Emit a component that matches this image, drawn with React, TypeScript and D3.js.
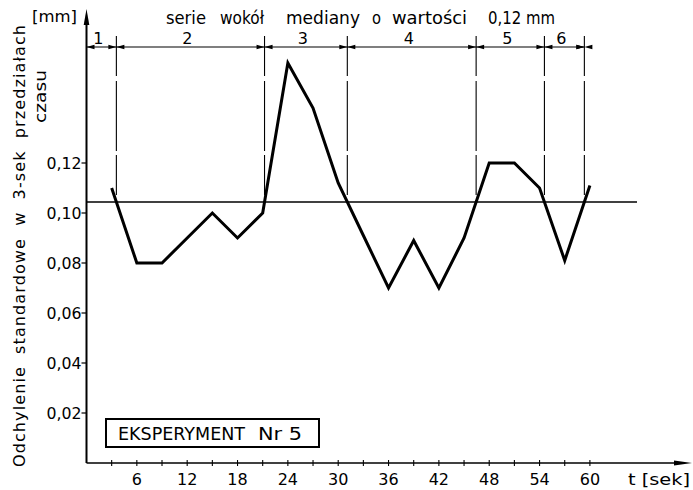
import React from "react";
import * as d3 from "d3";

// ---- data ----
const times = [3, 6, 9, 12, 15, 18, 21, 24, 27, 30, 33, 36, 39, 42, 45, 48, 51, 54, 57, 60];
const values = [0.11, 0.08, 0.08, 0.09, 0.1, 0.09, 0.1, 0.16, 0.142, 0.112, 0.091, 0.07, 0.089, 0.07, 0.09, 0.12, 0.12, 0.11, 0.081, 0.111];
const medianValue = 0.1044;
const xTickValues = [6, 12, 18, 24, 30, 36, 42, 48, 54, 60];
const xMinorTicks = [3, 6, 9, 12, 15, 18, 21, 24, 27, 30, 33, 36, 39, 42, 45, 48, 51, 54, 57, 60];
const yTickValues = [0.02, 0.04, 0.06, 0.08, 0.1, 0.12];
const runLabels = ["1", "2", "3", "4", "5", "6"];
const titleWords = ["serie", "wokół", "mediany", "o", "wartości", "0,12 mm"];
const yTitleLine1 = "Odchylenie standardowe w 3-sek przedziałach";
const yTitleLine2 = "czasu";
const boxLabel = ["EKSPERYMENT", "Nr 5"];

const FONT = "'DejaVu Sans', sans-serif";

export default function App() {
  const W = 693, H = 490;
  const x = d3.scaleLinear().domain([0, 60]).range([86.5, 589.9]);
  const y = d3.scaleLinear().domain([0, 0.18]).range([463, 13]);

  const pts: [number, number][] = times.map((t, i) => [t, values[i]]);
  const line = d3.line<[number, number]>().x(d => x(d[0])).y(d => y(d[1]));

  // crossings with the median -> run boundaries
  const crossings: number[] = [];
  for (let i = 1; i < pts.length; i++) {
    const [t0, v0] = pts[i - 1];
    const [t1, v1] = pts[i];
    if ((v0 - medianValue) * (v1 - medianValue) < 0) {
      crossings.push(t0 + (t1 - t0) * (v0 - medianValue) / (v0 - v1));
    }
  }
  const bounds = [0, ...crossings];
  const dimY = 47;
  const medY = y(medianValue);

  const arrow = (xb: number, dir: number, key: string) => {
    const L = 8, hw = 2.3;
    const p = `M${xb},${dimY} L${xb - dir * L},${dimY - hw} L${xb - dir * L},${dimY + hw} Z`;
    return <path key={key} d={p} fill="#000" />;
  };

  const titlePos: [number, number][] = [[166, 206], [220, 264], [286, 360], [372, 381], [392, 467], [488, 555]];

  return (
    <svg width={W} height={H} style={{ position: "absolute", left: 0, top: 0, background: "#fff" }} fontFamily={FONT}>
      <rect x={0} y={0} width={W} height={H} fill="#fff" />
      {/* title */}
      {titleWords.map((w, i) => (
        <text key={"tw" + i} x={titlePos[i][0]} y={24} fontSize={17} textLength={titlePos[i][1] - titlePos[i][0]} lengthAdjust="spacingAndGlyphs" fill="#000">{w}</text>
      ))}
      <text x={32} y={22} fontSize={16} textLength={45} lengthAdjust="spacingAndGlyphs">[mm]</text>

      {/* boundary vertical lines */}
      {crossings.map((c, i) => (
        <line key={"vb" + i} x1={x(c)} x2={x(c)} y1={36} y2={medY} stroke="#000" strokeWidth={1.1} strokeDasharray="40 5 70 4" />
      ))}
      {/* dimension line */}
      <line x1={x(0)} x2={x(crossings[crossings.length - 1])} y1={dimY} y2={dimY} stroke="#000" strokeWidth={1.1} />
      {bounds.map((b, i) => {
        const els = [];
        if (i > 0) els.push(arrow(x(b), 1, "ar" + i));
        els.push(arrow(x(b), -1, "al" + i));
        return els;
      })}
      {arrow(x(crossings[crossings.length - 1]), 1, "arlast")}
      {runLabels.map((r, i) => {
        const a = bounds[i];
        const b = i + 1 < bounds.length ? bounds[i + 1] : crossings[crossings.length - 1];
        return (
          <text key={"rl" + i} x={(x(a) + x(b)) / 2 - 3} y={44} fontSize={16} textAnchor="middle">{r}</text>
        );
      })}

      {/* median line */}
      <line x1={x(0)} x2={637} y1={medY} y2={medY} stroke="#000" strokeWidth={1.3} />

      {/* data line */}
      <path d={line(pts) || ""} fill="none" stroke="#000" strokeWidth={3} strokeLinejoin="miter" />

      {/* y axis */}
      <line x1={x(0)} x2={x(0)} y1={463} y2={18} stroke="#000" strokeWidth={2} />
      <path d={`M${x(0)},9 L${x(0) - 2.8},25 L${x(0) + 2.8},25 Z`} fill="#000" />
      {yTickValues.map((v, i) => (
        <g key={"yt" + i}>
          <line x1={x(0) - 5} x2={x(0)} y1={y(v)} y2={y(v)} stroke="#000" strokeWidth={1.2} />
          <text x={x(0) - 5} y={y(v) + 6} fontSize={16} textAnchor="end" textLength={35} lengthAdjust="spacingAndGlyphs">{d3.format(".2f")(v).replace(".", ",")}</text>
        </g>
      ))}

      {/* x axis */}
      <line x1={x(0)} x2={680} y1={463} y2={463} stroke="#000" strokeWidth={1.6} />
      <path d={`M692,463 L674,460.5 L674,465.5 Z`} fill="#000" />
      {xMinorTicks.map((t, i) => (
        <line key={"xm" + i} x1={x(t)} x2={x(t)} y1={460} y2={466} stroke="#000" strokeWidth={1.1} />
      ))}
      {xTickValues.map((t, i) => (
        <text key={"xt" + i} x={x(t)} y={485} fontSize={16} textAnchor="middle">{t}</text>
      ))}
      <text x={628} y={485} fontSize={16} textLength={62} lengthAdjust="spacingAndGlyphs">t [sek]</text>

      {/* y title */}
      <text transform={`translate(25,467) rotate(-90)`} fontSize={16} textLength={442} lengthAdjust="spacing" wordSpacing={6}>{yTitleLine1}</text>
      <text transform={`translate(46,123) rotate(-90)`} fontSize={16} textLength={53} lengthAdjust="spacingAndGlyphs">{yTitleLine2}</text>

      {/* box */}
      <rect x={106} y={419} width={213} height={28} fill="none" stroke="#000" strokeWidth={2} />
      <text x={118} y={440} fontSize={17} textLength={127} lengthAdjust="spacingAndGlyphs">{boxLabel[0]}</text>
      <text x={258} y={440} fontSize={17} textLength={44} lengthAdjust="spacingAndGlyphs">{boxLabel[1]}</text>
    </svg>
  );
}
